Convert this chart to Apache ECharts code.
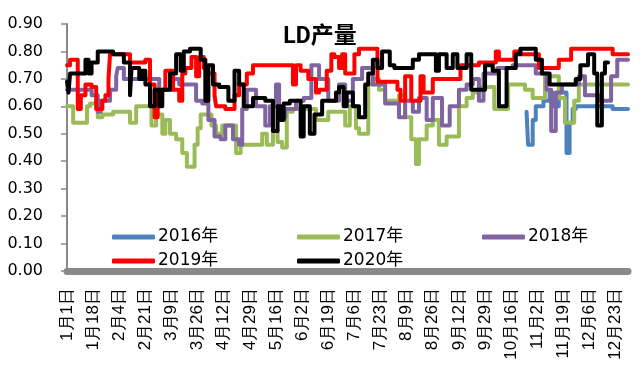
<!DOCTYPE html>
<html>
<head>
<meta charset="utf-8">
<script src="https://cdn.jsdelivr.net/npm/echarts@6/dist/echarts.min.js"></script>
<style>html,body{margin:0;padding:0;background:#fff}#c{width:640px;height:382px}</style>
</head>
<body>
<div id="c"></div>
<script>
// Calendar (leap year layout, 366 days) used for category labels
const monthLengths = [31,29,31,30,31,30,31,31,30,31,30,31];
const categories = [];
monthLengths.forEach((n, m) => { for (let d = 1; d <= n; d++) categories.push((m + 1) + '月' + d + '日'); });
const labelStep = 17;

const yTicks = [0, 0.1, 0.2, 0.3, 0.4, 0.5, 0.6, 0.7, 0.8, 0.9];
const seriesNames = ['2016年', '2017年', '2018年', '2019年', '2020年'];

// [day index, value] change points
const s2016 = [[299,0.58],[300,0.46],[303,0.55],[305,0.60],[310,0.62],[314,0.65],[316,0.60],[320,0.65],[325,0.43],[327,0.54],[329,0.59],[331,0.60],[355,0.59],[365,0.59]];
const s2017 = [[0,0.60],[4,0.54],[13,0.60],[15,0.61],[20,0.56],[23,0.57],[30,0.58],[41,0.54],[45,0.60],[55,0.53],[58,0.57],[62,0.50],[64,0.55],[67,0.50],[71,0.48],[75,0.43],[78,0.38],[83,0.46],[85,0.52],[87,0.57],[94,0.53],[97,0.50],[101,0.53],[110,0.43],[113,0.46],[127,0.50],[130,0.46],[134,0.51],[137,0.47],[140,0.45],[143,0.58],[147,0.59],[162,0.55],[170,0.58],[181,0.53],[184,0.60],[188,0.52],[190,0.50],[196,0.68],[199,0.70],[203,0.66],[207,0.62],[216,0.64],[220,0.56],[224,0.48],[227,0.39],[229,0.48],[234,0.53],[238,0.55],[242,0.46],[247,0.49],[255,0.60],[260,0.63],[264,0.65],[268,0.67],[278,0.59],[287,0.68],[298,0.66],[303,0.63],[311,0.71],[320,0.63],[324,0.54],[330,0.62],[333,0.68],[365,0.68]];
const s2018 = [[0,0.66],[16,0.64],[20,0.58],[22,0.62],[25,0.62],[28,0.66],[32,0.71],[33,0.74],[37,0.70],[60,0.66],[69,0.70],[73,0.68],[84,0.62],[88,0.61],[92,0.55],[96,0.49],[100,0.48],[103,0.53],[108,0.48],[112,0.46],[114,0.59],[117,0.66],[123,0.60],[129,0.53],[132,0.60],[136,0.68],[138,0.56],[142,0.59],[149,0.62],[154,0.63],[159,0.75],[164,0.70],[170,0.62],[177,0.68],[181,0.62],[186,0.70],[192,0.74],[199,0.68],[207,0.61],[216,0.56],[220,0.62],[225,0.58],[229,0.63],[234,0.55],[238,0.63],[244,0.53],[249,0.60],[255,0.66],[260,0.68],[264,0.70],[268,0.62],[271,0.72],[280,0.74],[290,0.75],[305,0.72],[312,0.66],[315,0.51],[318,0.65],[322,0.68],[333,0.71],[337,0.64],[346,0.62],[354,0.71],[358,0.77],[365,0.77]];
const s2019 = [[0,0.75],[2,0.77],[7,0.59],[9,0.64],[12,0.68],[16,0.67],[19,0.59],[23,0.62],[25,0.64],[27,0.70],[28,0.79],[41,0.76],[51,0.77],[54,0.68],[57,0.56],[59,0.66],[64,0.73],[69,0.66],[73,0.62],[75,0.72],[77,0.74],[81,0.78],[84,0.71],[86,0.78],[89,0.74],[91,0.72],[96,0.64],[97,0.60],[103,0.59],[109,0.64],[112,0.68],[117,0.72],[121,0.75],[147,0.68],[149,0.75],[152,0.73],[157,0.70],[162,0.65],[164,0.66],[169,0.73],[172,0.79],[174,0.78],[177,0.74],[179,0.79],[181,0.72],[187,0.79],[190,0.81],[202,0.69],[215,0.66],[217,0.62],[220,0.71],[224,0.62],[230,0.71],[232,0.65],[238,0.70],[256,0.75],[268,0.76],[279,0.80],[281,0.77],[291,0.80],[295,0.79],[307,0.74],[320,0.77],[328,0.81],[355,0.79],[365,0.79]];
const s2020 = [[0,0.69],[1,0.65],[2,0.72],[12,0.77],[14,0.72],[16,0.76],[20,0.80],[30,0.79],[37,0.76],[41,0.64],[42,0.74],[47,0.70],[49,0.73],[51,0.68],[54,0.60],[57,0.66],[60,0.60],[62,0.66],[67,0.72],[71,0.79],[74,0.73],[76,0.80],[80,0.81],[87,0.77],[90,0.62],[92,0.75],[95,0.68],[99,0.67],[105,0.62],[109,0.73],[112,0.68],[115,0.60],[121,0.63],[129,0.62],[134,0.51],[137,0.60],[139,0.55],[141,0.61],[145,0.62],[152,0.49],[154,0.60],[158,0.50],[161,0.57],[166,0.62],[175,0.65],[177,0.67],[180,0.60],[182,0.65],[186,0.60],[190,0.56],[194,0.68],[196,0.72],[199,0.77],[202,0.74],[205,0.80],[210,0.75],[213,0.74],[225,0.77],[229,0.79],[240,0.73],[242,0.79],[247,0.74],[251,0.79],[254,0.74],[260,0.79],[263,0.66],[272,0.75],[277,0.73],[281,0.60],[286,0.74],[292,0.79],[295,0.81],[305,0.77],[309,0.72],[314,0.68],[331,0.70],[334,0.75],[339,0.79],[343,0.72],[345,0.53],[348,0.72],[350,0.76],[352,0.76]];

const seriesData = [s2016, s2017, s2018, s2019, s2020];
const colors = ['#4F81BD', '#9BBB59', '#8064A2', '#FF0000', '#000000'];
const FONT = 'DejaVu Sans, Noto Sans CJK SC, sans-serif';

const chart = echarts.init(document.getElementById('c'), null, {renderer: 'canvas'});
const legendBase = {
  orient: 'horizontal', left: 107, itemWidth: 43, itemHeight: 5, itemGap: 75,
  icon: 'roundRect', selectedMode: false,
  textStyle: {fontFamily: FONT, fontSize: 17, color: '#000', width: 64, lineHeight: 20, padding: [0,0,0,-2]}
};
chart.setOption({
  animation: false,
  backgroundColor: '#fff',
  color: colors,
  title: {
    text: 'LD产量', left: 'center', top: 21,
    textStyle: {fontFamily: 'Roboto, Noto Sans CJK SC, sans-serif', fontWeight: 'bold', fontSize: 23, color: '#000'}
  },
  legend: [
    Object.assign({}, legendBase, {top: 222, data: seriesNames.slice(0, 3)}),
    Object.assign({}, legendBase, {top: 246, data: seriesNames.slice(3)})
  ],
  grid: {left: 67, right: 12, top: 24, bottom: 111},
  xAxis: {
    type: 'category', data: categories, boundaryGap: false, offset: 3.5,
    axisLine: {lineStyle: {color: '#898989', width: 7}},
    axisTick: {show: false},
    axisLabel: {show: false},
    splitLine: {show: false}
  },
  yAxis: {
    type: 'value', min: yTicks[0], max: yTicks[yTicks.length - 1], interval: 0.1,
    axisLine: {show: true, lineStyle: {color: '#898989', width: 2}},
    axisTick: {show: true, length: 6, lineStyle: {color: '#898989', width: 1.5}},
    axisLabel: {margin: 24, fontFamily: FONT, fontSize: 16, color: '#000', formatter: v => v.toFixed(2)},
    splitLine: {show: false}
  },
  series: seriesNames.map((name, i) => ({
    name: name, type: 'line', step: 'end', data: seriesData[i],
    showSymbol: false, symbol: 'none',
    lineStyle: {width: 4, color: colors[i], join: 'round', cap: 'round'},
    itemStyle: {color: colors[i]}
  }))
});

// Vertical date labels (rotated 90°, reading bottom-to-top), positioned through the x axis scale
const labelTop = chart.convertToPixel({yAxisIndex: 0}, 0) + 17;
const labelEls = [];
for (let i = 0; i < categories.length; i += labelStep) {
  const px = chart.convertToPixel({xAxisIndex: 0}, i);
  labelEls.push({
    type: 'text', x: px, y: labelTop, rotation: Math.PI / 2, silent: true,
    style: {text: categories[i], fontSize: 17, fontFamily: 'sans-serif', fill: '#000',
            align: 'right', verticalAlign: 'middle', textAlign: 'right', textVerticalAlign: 'middle'}
  });
}
chart.setOption({graphic: labelEls});
</script>
</body>
</html>
